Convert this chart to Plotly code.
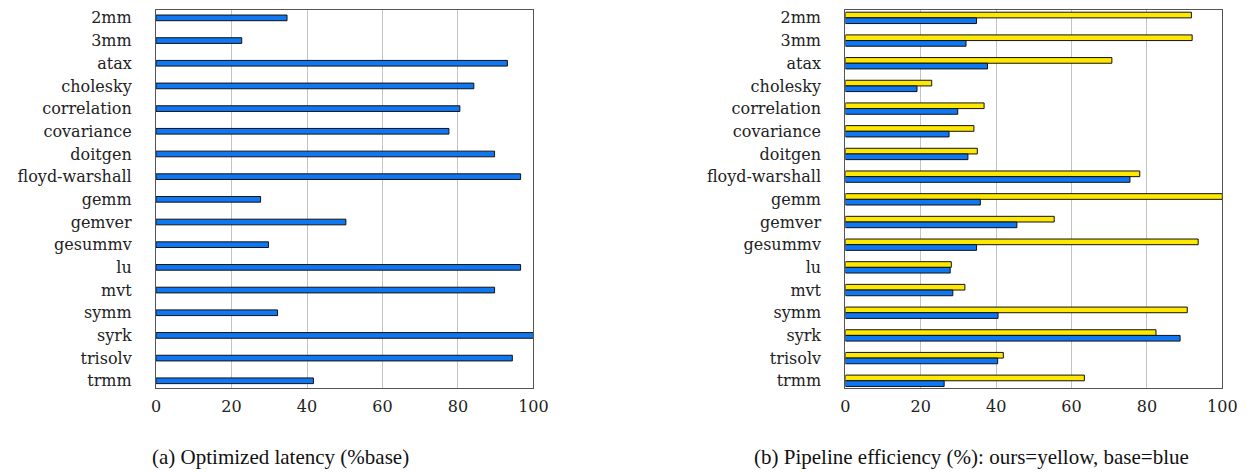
import plotly.graph_objects as go

kernels = ["2mm", "3mm", "atax", "cholesky", "correlation", "covariance", "doitgen",
           "floyd-warshall", "gemm", "gemver", "gesummv", "lu", "mvt", "symm",
           "syrk", "trisolv", "trmm"]

# (a) optimized latency as % of baseline
latency_pct = [34.7, 22.7, 93.1, 84.2, 80.5, 77.6, 89.7, 96.6, 27.7, 50.3,
               29.8, 96.6, 89.7, 32.2, 100.0, 94.4, 41.7]

# (b) pipeline efficiency (%)
eff_ours = [91.8, 92.0, 70.7, 22.9, 36.8, 34.1, 35.0, 78.1, 100.0, 55.4,
            93.6, 28.1, 31.7, 90.7, 82.4, 41.9, 63.4]
eff_base = [34.8, 32.0, 37.7, 19.0, 29.8, 27.5, 32.5, 75.5, 35.8, 45.5,
            34.8, 27.8, 28.5, 40.5, 88.8, 40.4, 26.2]

x_ticks = [0, 20, 40, 60, 80, 100]

BLUE = "#0f77f2"
YELLOW = "#ffe800"
BAR_W = 0.25
W, H = 1256, 474

fig = go.Figure()

fig.add_trace(go.Bar(
    y=kernels, x=latency_pct, orientation="h", width=BAR_W,
    marker=dict(color=BLUE, line=dict(color="#111", width=1)),
    xaxis="x", yaxis="y", showlegend=False,
))
fig.add_trace(go.Bar(
    y=kernels, x=eff_ours, orientation="h", width=BAR_W, offset=-BAR_W,
    marker=dict(color=YELLOW, line=dict(color="#111", width=1)),
    xaxis="x2", yaxis="y2", showlegend=False,
))
fig.add_trace(go.Bar(
    y=kernels, x=eff_base, orientation="h", width=BAR_W, offset=0,
    marker=dict(color=BLUE, line=dict(color="#111", width=1)),
    xaxis="x2", yaxis="y2", showlegend=False,
))

tick_font = dict(family="DejaVu Serif", size=16, color="#222")
clear = "rgba(0,0,0,0)"

xaxis_common = dict(
    range=[0, 100], tickvals=x_ticks, showgrid=True, gridcolor="#c4c4c4",
    gridwidth=1, zeroline=False, showline=True, linecolor="#555", linewidth=1.3,
    mirror=True, ticks="outside", ticklen=4, tickcolor=clear,
    tickfont=tick_font, fixedrange=True,
)
yaxis_common = dict(
    type="category", range=[len(kernels) - 1 + 0.32, -0.35], showgrid=False,
    zeroline=False, showline=True, linecolor="#555", linewidth=1.3, mirror=True,
    ticks="outside", ticklen=20, tickcolor=clear, tickfont=tick_font,
    fixedrange=True,
)

ytop = 1 - 9 / H
ybot = 1 - 389.5 / H
caption_font = dict(family="Liberation Serif", size=21, color="#111")
cap_y = 1 - 459 / H

fig.update_layout(
    width=W, height=H,
    margin=dict(l=0, r=0, t=0, b=0),
    paper_bgcolor="white", plot_bgcolor="white",
    barmode="overlay",
    xaxis=dict(domain=[153.5 / W, 537 / W], anchor="y", **xaxis_common),
    yaxis=dict(domain=[ybot, ytop], anchor="x", **yaxis_common),
    xaxis2=dict(domain=[854 / W, 1237 / W], anchor="y2", **xaxis_common),
    yaxis2=dict(domain=[ybot, ytop], anchor="x2", **yaxis_common),
    annotations=[
        dict(text="(a) Optimized latency (%base)", x=280 / W, y=cap_y,
             xref="paper", yref="paper", xanchor="center", yanchor="middle",
             showarrow=False, font=caption_font),
        dict(text="(b) Pipeline efficiency (%): ours=yellow, base=blue",
             x=982 / W, y=cap_y, xref="paper", yref="paper",
             xanchor="center", yanchor="middle",
             showarrow=False, font=caption_font),
    ],
)

fig.write_html("out.html")
